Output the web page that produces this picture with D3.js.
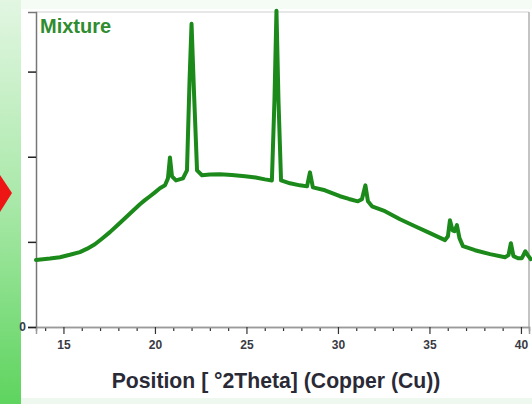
<!DOCTYPE html>
<html><head><meta charset="utf-8">
<script src="https://cdn.jsdelivr.net/npm/d3@7"></script>
<style>html,body{margin:0;padding:0;background:#fff;}svg{display:block;}</style>
</head><body>
<svg id="c" width="532" height="404"></svg>
<script>
// XRD pattern "Mixture": 2Theta (deg) and intensity (counts)
const twoTheta = [13.5,14.26,14.81,15.35,15.9,16.3,16.72,17.12,17.54,17.95,18.36,18.77,19.18,19.45,19.73,20.0,20.27,20.55,20.71,20.82,20.93,21.15,21.53,21.75,21.89,22.0,22.13,22.3,22.57,23.0,23.55,24.2,24.92,25.5,26.01,26.39,26.53,26.64,26.75,26.89,27.38,27.92,28.31,28.47,28.63,29.29,30.11,30.6,31.09,31.31,31.5,31.64,31.86,32.57,33.39,34.21,35.03,35.85,36.01,36.12,36.26,36.37,36.5,36.64,36.83,37.49,38.31,39.13,39.32,39.45,39.59,39.84,40.05,40.24,40.37,40.54];
const intensity = [393,402,410,424,440,460,486,520,557,598,639,680,721,745,768,791,815,832,873,996,885,861,873,920,1447,1781,1389,920,891,895,897,893,885,878,867,861,1330,1858,1330,861,844,832,826,908,820,803,768,752,738,750,832,738,709,680,633,592,551,510,533,627,568,563,598,522,475,451,428,410,422,492,416,404,404,445,422,398];
const majorTicks = [15,20,25,30,35,40];
const minorTicks = [14,16,17,18,19,21,22,23,24,26,27,28,29,31,32,33,34,36,37,38,39];
const yTicks = [0,500,1000,1500];
const yTickLabels = ["0","","",""];
const sampleLabel = "Mixture";
const xTitle = "Position [ °2Theta] (Copper (Cu))";

const svg = d3.select("#c");
const W = 532, H = 404;
const pL = 36, pR = 529, pT = 12, pB = 327;

// background decorations
const defs = svg.append("defs");
const g1 = defs.append("linearGradient").attr("id","strip").attr("x1",0).attr("y1",0).attr("x2",0).attr("y2",1);
g1.append("stop").attr("offset","0%").attr("stop-color","#e2f6e2");
g1.append("stop").attr("offset","50%").attr("stop-color","#a9e8a9");
g1.append("stop").attr("offset","100%").attr("stop-color","#5ed45e");
svg.append("rect").attr("x",0).attr("y",0).attr("width",W).attr("height",H).attr("fill","#fff");
svg.append("rect").attr("x",21).attr("y",0).attr("width",W-21).attr("height",9).attr("fill","#f5fbf5");
svg.append("rect").attr("x",21).attr("y",398).attr("width",W-21).attr("height",6).attr("fill","#eef8ee");
svg.append("rect").attr("x",0).attr("y",0).attr("width",21).attr("height",H).attr("fill","url(#strip)");
svg.append("path").attr("d","M0,175 L12,193 L0,212 Z").attr("fill","#ee1515");

const x = d3.scaleLinear().domain([13.5,40.44]).range([pL,pR]);
const y = d3.scaleLinear().domain([0,1850]).range([pB,pT]);

// frame
svg.append("line").attr("x1",pL).attr("x2",pR).attr("y1",pT).attr("y2",pT).attr("stroke","#d0d0d0").attr("stroke-width",1);
svg.append("line").attr("x1",pR).attr("x2",pR).attr("y1",pT).attr("y2",pB).attr("stroke","#b0b0b0").attr("stroke-width",1.5);

// x axis
const xMinor = svg.append("g").attr("transform",`translate(0,${pB})`)
  .call(d3.axisBottom(x).tickValues(minorTicks).tickSize(4).tickFormat(""));
const xMajor = svg.append("g").attr("transform",`translate(0,${pB})`)
  .call(d3.axisBottom(x).tickValues(majorTicks).tickSize(7).tickPadding(6).tickFormat(d3.format("d")));
[xMinor,xMajor].forEach(g=>{
  g.select(".domain").attr("stroke","#9a9a9a").attr("stroke-width",1.5);
  g.selectAll(".tick line").attr("stroke","#333").attr("stroke-width",1.2);
});
xMajor.selectAll(".tick text").attr("font-family","Liberation Sans, Arial, sans-serif")
  .attr("font-size",12).attr("font-weight","bold").attr("fill","#3a3a44");

// y axis
const yAx = svg.append("g").attr("transform",`translate(${pL},0)`)
  .call(d3.axisLeft(y).tickValues(yTicks).tickSize(8).tickPadding(2).tickFormat((d,i)=>yTickLabels[i]));
yAx.select(".domain").attr("stroke","#777").attr("stroke-width",1.5);
yAx.selectAll(".tick line").attr("stroke","#222").attr("stroke-width",1.5);
yAx.selectAll(".tick text").attr("font-family","Liberation Sans, Arial, sans-serif")
  .attr("font-size",12).attr("font-weight","bold").attr("fill","#3a3a44");

// pattern line
const line = d3.line().x((d,i)=>x(twoTheta[i])).y(d=>y(d));
svg.append("path").datum(intensity).attr("d",line)
  .attr("fill","none").attr("stroke","#1b8a1b").attr("stroke-width",4)
  .attr("stroke-linejoin","round").attr("stroke-linecap","round");

// labels
svg.append("text").attr("x",40).attr("y",33).text(sampleLabel)
  .attr("font-family","Liberation Sans, Arial, sans-serif").attr("font-size",20).attr("font-weight","bold")
  .attr("fill","#2f8c2f");
svg.append("text").attr("x",276).attr("y",388).attr("text-anchor","middle").text(xTitle)
  .attr("font-family","Liberation Sans, Arial, sans-serif").attr("font-size",21.2).attr("font-weight","bold")
  .attr("fill","#2a2a36");
</script>
</body></html>
